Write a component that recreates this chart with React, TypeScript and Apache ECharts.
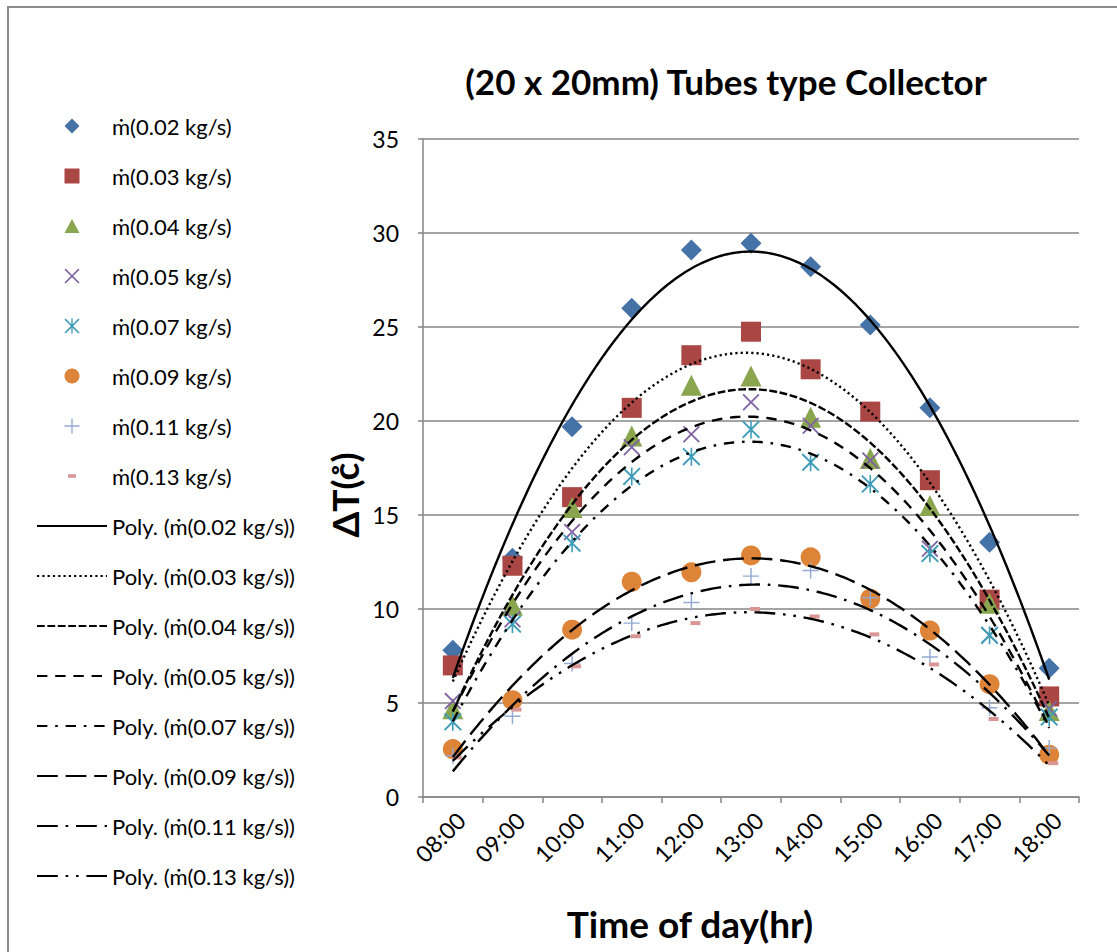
import React, { useEffect, useRef } from 'react';
import * as echarts from 'echarts';

// ---------- data ----------
const hours = ['08:00', '09:00', '10:00', '11:00', '12:00', '13:00', '14:00', '15:00', '16:00', '17:00', '18:00'];

const seriesNames = [
  'ṁ(0.02 kg/s)',
  'ṁ(0.03 kg/s)',
  'ṁ(0.04 kg/s)',
  'ṁ(0.05 kg/s)',
  'ṁ(0.07 kg/s)',
  'ṁ(0.09 kg/s)',
  'ṁ(0.11 kg/s)',
  'ṁ(0.13 kg/s)',
];

const dT002 = [7.8, 12.7, 19.7, 26.0, 29.1, 29.45, 28.2, 25.1, 20.7, 13.55, 6.85];
const dT003 = [7.0, 12.3, 15.95, 20.7, 23.5, 24.75, 22.75, 20.5, 16.85, 10.5, 5.35];
const dT004 = [4.7, 10.2, 15.4, 19.2, 21.9, 22.4, 20.2, 18.0, 15.5, 10.3, 4.6];
const dT005 = [5.1, 9.45, 14.1, 18.6, 19.3, 21.0, 19.75, 17.9, 13.2, 8.6, 4.7];
const dT007 = [4.0, 9.2, 13.5, 17.05, 18.1, 19.55, 17.8, 16.65, 12.95, 8.6, 4.25];
const dT009 = [2.55, 5.15, 8.9, 11.45, 11.95, 12.85, 12.75, 10.55, 8.85, 6.0, 2.25];
const dT011 = [2.2, 4.3, 7.1, 9.25, 10.35, 11.75, 12.05, 10.6, 7.45, 4.75, 2.6];
const dT013 = [2.1, 4.65, 6.95, 8.55, 9.25, 10.0, 9.6, 8.65, 7.05, 4.15, 1.8];

const allData = [dT002, dT003, dT004, dT005, dT007, dT009, dT011, dT013];

const yMin = 0;
const yMax = 35;
const yStep = 5;

// ---------- styles ----------
const colors = ['#4572A7', '#AA4643', '#89A54E', '#7F62A1', '#3F9DB8', '#DE8438', '#93AAD3', '#D99694'];

const X_PATH =
  'path://M0,1.5 L1.5,0 L10,8.5 L18.5,0 L20,1.5 L11.5,10 L20,18.5 L18.5,20 L10,11.5 L1.5,20 L0,18.5 L8.5,10 Z';
const STAR_PATH =
  'path://M0,1.5 L1.5,0 L10,8.5 L18.5,0 L20,1.5 L11.5,10 L20,18.5 L18.5,20 L10,11.5 L1.5,20 L0,18.5 L8.5,10 Z M9.1,0 L10.9,0 L10.9,20 L9.1,20 Z';
const PLUS_PATH = 'path://M9.1,0 L10.9,0 L10.9,9.1 L20,9.1 L20,10.9 L10.9,10.9 L10.9,20 L9.1,20 L9.1,10.9 L0,10.9 L0,9.1 L9.1,9.1 Z';

// legend icons drawn in a 70x15 box (corner points keep the box size)
const BOX = 'M0,0 L0.01,0 Z M70,15 L69.99,15 Z ';
const LEG_DIAMOND = 'path://' + BOX + 'M35,0 L42.5,7.5 L35,15 L27.5,7.5 Z';
const LEG_SQUARE = 'path://' + BOX + 'M27.5,0 L42.5,0 L42.5,15 L27.5,15 Z';
const LEG_TRIANGLE = 'path://' + BOX + 'M35,0.5 L42.5,14.5 L27.5,14.5 Z';
const LEG_DASH = 'path://' + BOX + 'M31,5.7 L39,5.7 L39,9.3 L31,9.3 Z';
const legendIcons: (string | null)[] = [LEG_DIAMOND, LEG_SQUARE, LEG_TRIANGLE, null, null, null, null, LEG_DASH];

const symbols = ['diamond', 'rect', 'triangle', X_PATH, STAR_PATH, 'circle', PLUS_PATH, 'rect'];
const symbolSizes: any[] = [21, 20, 21, 17, 18, 20, 16, [10, 4]];
const symbolOffsets: any[] = [[0, 0], [0, 0], [0, 0], [0, 0], [0, 0], [0, 0], [0, 0], [4, 0]];

const U = 2.6;
const lineDashes: any[] = [
  'solid',
  [2.2, 3.1],
  [3 * U, U],
  [4 * U, 3 * U],
  [4 * U, 3 * U, U, 3 * U],
  [8 * U, 3 * U],
  [8 * U, 3 * U, U, 3 * U],
  [8 * U, 3 * U, U, 3 * U, U, 3 * U],
];

const FONT = 'Lato, "Noto Sans", "DejaVu Sans", sans-serif';

// Excel-style order-2 polynomial trendline (least squares) from the data
function quadFit(xs: number[], ys: number[]) {
  let s0 = 0, s1 = 0, s2 = 0, s3 = 0, s4 = 0, t0 = 0, t1 = 0, t2 = 0;
  for (let i = 0; i < xs.length; i++) {
    const x = xs[i], y = ys[i];
    s0 += 1; s1 += x; s2 += x * x; s3 += x * x * x; s4 += x * x * x * x;
    t0 += y; t1 += x * y; t2 += x * x * y;
  }
  const M = [
    [s0, s1, s2, t0],
    [s1, s2, s3, t1],
    [s2, s3, s4, t2],
  ];
  for (let c = 0; c < 3; c++) {
    let p = c;
    for (let r = c + 1; r < 3; r++) if (Math.abs(M[r][c]) > Math.abs(M[p][c])) p = r;
    [M[c], M[p]] = [M[p], M[c]];
    for (let r = 0; r < 3; r++) {
      if (r === c) continue;
      const f = M[r][c] / M[c][c];
      for (let k = c; k < 4; k++) M[r][k] -= f * M[c][k];
    }
  }
  const a = M[0][3] / M[0][0];
  const b = M[1][3] / M[1][1];
  const cc = M[2][3] / M[2][2];
  return (x: number) => a + b * x + cc * x * x;
}

export default function App() {
  const ref = useRef<HTMLDivElement>(null);

  useEffect(() => {
    if (!ref.current) return;
    const chart = echarts.init(ref.current, null, { renderer: 'svg' });

    const xsPos = hours.map((_, i) => i + 0.5);

    const scatterSeries = allData.map((d, k) => ({
      type: 'scatter',
      name: seriesNames[k],
      xAxisIndex: 0,
      yAxisIndex: 0,
      data: d,
      symbol: symbols[k],
      symbolSize: symbolSizes[k],
      symbolOffset: symbolOffsets[k],
      itemStyle: { color: colors[k], opacity: 1 },
      z: 2,
    }));

    const lineSeries = allData.map((d, k) => {
      const f = quadFit(xsPos, d);
      const pts: number[][] = [];
      const n = 200;
      for (let j = 0; j <= n; j++) {
        const x = xsPos[0] + ((xsPos[xsPos.length - 1] - xsPos[0]) * j) / n;
        pts.push([x, f(x)]);
      }
      return {
        type: 'line',
        name: 'Poly. (' + seriesNames[k] + ')',
        xAxisIndex: 1,
        yAxisIndex: 0,
        data: pts,
        symbol: 'none',
        showSymbol: false,
        smooth: false,
        lineStyle: {
          color: '#000',
          width: 2.4,
          type: lineDashes[k],
        },
        itemStyle: { color: '#000' },
        z: 3,
      };
    });

    const legendData: any[] = [
      ...seriesNames.map((nm, k) => (legendIcons[k] ? { name: nm, icon: legendIcons[k] } : { name: nm })),
      ...seriesNames.map((nm) => ({ name: 'Poly. (' + nm + ')', itemStyle: { opacity: 0 } })),
    ];

    chart.setOption({
      animation: false,
      backgroundColor: '#ffffff',
      textStyle: { fontFamily: FONT },
      legend: {
        orient: 'vertical',
        left: 36,
        top: 115,
        padding: 0,
        itemWidth: 70,
        itemHeight: 15,
        itemGap: 28,
        selectedMode: false,
        data: legendData,
        lineStyle: { width: 2 },
        textStyle: { fontFamily: FONT, fontSize: 22, color: '#000', lineHeight: 22 },
      },
      grid: { left: 423, top: 139, width: 656, height: 658, containLabel: false },
      xAxis: [
        {
          type: 'category',
          data: hours,
          boundaryGap: true,
          axisLine: { show: true, lineStyle: { color: '#868686', width: 1.5 } },
          axisTick: { show: true, length: 6, alignWithLabel: false, lineStyle: { color: '#868686', width: 1.5 } },
          axisLabel: {
            interval: 0,
            rotate: 45,
            fontSize: 23,
            color: '#000',
            margin: 11,
            verticalAlign: 'top',
            fontFamily: FONT,
          },
          splitLine: { show: false },
        },
        {
          type: 'value',
          min: 0,
          max: hours.length,
          show: false,
          splitLine: { show: false },
        },
      ],
      yAxis: {
        type: 'value',
        min: yMin,
        max: yMax,
        interval: yStep,
        axisLine: { show: true, lineStyle: { color: '#868686', width: 1.5 } },
        axisTick: { show: true, length: 5, lineStyle: { color: '#868686', width: 1.5 } },
        axisLabel: { fontSize: 23, color: '#000', margin: 24, fontFamily: FONT },
        splitLine: { show: true, lineStyle: { color: '#868686', width: 1.5 } },
      },
      graphic: [
        {
          type: 'rect',
          silent: true,
          shape: { x: 8, y: 7, width: 1300, height: 1100 },
          style: { fill: 'none', stroke: '#8c8c8c', lineWidth: 2 },
        },
        {
          type: 'text',
          x: 726,
          y: 81,
          style: {
            text: '(20 x 20mm) Tubes type Collector',
            font: 'bold 35px ' + FONT,
            fill: '#000',
            align: 'center',
            verticalAlign: 'middle',
            textAlign: 'center',
            textVerticalAlign: 'middle',
          },
        },
        {
          type: 'text',
          x: 690,
          y: 923,
          style: {
            text: 'Time of day(hr)',
            font: 'bold 37px ' + FONT,
            fill: '#000',
            align: 'center',
            verticalAlign: 'middle',
            textAlign: 'center',
            textVerticalAlign: 'middle',
          },
        },
        {
          type: 'text',
          x: 344,
          y: 495,
          rotation: Math.PI / 2,
          style: {
            text: 'ΔT(c\u030A)',
            font: 'bold 37px ' + FONT,
            fill: '#000',
            align: 'center',
            verticalAlign: 'middle',
            textAlign: 'center',
            textVerticalAlign: 'middle',
          },
        },
      ],
      series: [...scatterSeries, ...lineSeries],
    });

    return () => {
      chart.dispose();
    };
  }, []);

  return (
    <div
      ref={ref}
      style={{ position: 'fixed', left: 0, top: 0, width: 1117, height: 952, background: '#fff' }}
    />
  );
}
